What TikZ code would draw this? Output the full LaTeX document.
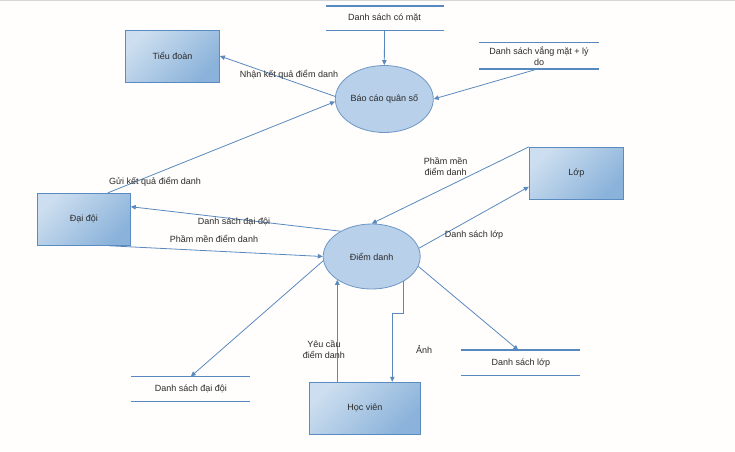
\documentclass[tikz,border=0pt]{standalone}
\usepackage{fontspec}
\setmainfont{Liberation Sans}
\usetikzlibrary{shapes.geometric,arrows.meta,calc}
\definecolor{bgcol}{HTML}{FFFEFC}
\definecolor{topgray}{HTML}{D6D6D6}
\definecolor{boxlight}{HTML}{CCDEEF}
\definecolor{boxdark}{HTML}{8AB2DA}
\definecolor{boxborder}{HTML}{5A8CC2}
\definecolor{ellfill}{HTML}{B8D0E9}
\definecolor{ellborder}{HTML}{6E97C6}
\definecolor{arrcol}{HTML}{5A89BE}
\definecolor{storecol}{HTML}{5888C0}
\definecolor{txt}{HTML}{2A2A2A}
\begin{document}
\begin{tikzpicture}[x=1pt,y=-1pt,
  every node/.style={font=\fontsize{9}{11}\selectfont, text=txt},
  entity/.style={rectangle, draw=boxborder, line width=0.9pt,
    top color=boxlight, bottom color=boxdark, shading angle=45,
    minimum height=52pt, inner sep=0pt},
  proc/.style={ellipse, draw=ellborder, line width=0.8pt, fill=ellfill, inner sep=0pt},
  store/.style={rectangle, inner sep=0pt, align=center},
  storeline/.style={draw=storecol, line width=1.8pt},
  arr/.style={draw=arrcol, line width=0.8pt, -{Triangle[length=5pt,width=4.5pt]}},
  lbl/.style={inner sep=0pt, align=center}
]
\useasboundingbox (0,0) rectangle (735,451);
\fill[bgcol] (0,0) rectangle (735,451);
\fill[topgray] (0,0) rectangle (735,1.3);

% entities
\node[entity, minimum width=94pt] (td) at (172.5,56) {Tiểu đoàn};
\node[entity, minimum width=93pt] (dai) at (83.8,219.3) {Đại đội};
\node[entity, minimum width=94pt] (lop) at (576.3,173.3) {Lớp};
\node[entity, minimum width=111pt] (hv) at (364.8,408.2) {Học viên};

% processes
\node[proc, minimum width=98pt, minimum height=67pt] (bc) at (384.3,99) {Báo cáo quân số};
\node[proc, minimum width=97pt, minimum height=65pt] (dd) at (371.7,256.5) {Điểm danh};

% stores
\node[store, minimum width=117.6pt, minimum height=24.3pt] (s1) at (384.5,18.2) {Danh sách có mặt};
\node[store, minimum width=120pt, minimum height=26.3pt] (s2) at (539,55.8) {Danh sách vắng mặt + lý\\do};
\node[store, minimum width=118.3pt, minimum height=24.6pt] (s3) at (190.8,389) {Danh sách đại đội};
\node[store, minimum width=118.3pt, minimum height=25pt] (s4) at (520.8,362.8) {Danh sách lớp};
\foreach \s in {s1,s2,s3,s4}{
  \draw[storeline] (\s.north west) -- (\s.north east);
  \draw[storeline] (\s.south west) -- (\s.south east);
}

% flows
\draw[arr] (s1.south) -- (bc.north);
\draw[arr] ([xshift=-2pt]s2.south) -- (bc.east);
\draw[arr] (bc.177) -- (td.east);
\draw[arr] ([xshift=24pt]dai.north) -- (bc.183);
\draw[arr] (dd.141) -- ([yshift=12.6pt]dai.east);
\draw[arr] ([xshift=25pt]dai.south) -- (dd.west);
\draw[arr] (lop.north west) -- (dd.north);
\draw[arr] (dd.10) -- ([yshift=-13.4pt]lop.west);
\draw[arr] (dd.185) -- (s3.north);
\draw[arr] (dd.-12) -- ([xshift=-2.5pt]s4.north);
\draw[arr] ([xshift=-27.5pt]hv.north) -- ([xshift=-27.5pt]hv.north |- dd.-146.5);
\draw[arr] (dd.-38) -- ++(0pt,-32pt) -| ([xshift=27.5pt]hv.north);

% labels
\node[lbl] (l1) at (289,75) {Nhận kết quả điểm danh};
\node[lbl] (l2) at (155,181.7) {Gửi kết quả điểm danh};
\node[lbl] (l3) at (234,222) {Danh sách đại đội};
\node[lbl] (l4) at (214,238.7) {Phầm mền điểm danh};
\node[lbl] (l5) at (445.7,166.2) {Phầm mền\\điểm danh};
\node[lbl] (l6) at (474,235) {Danh sách lớp};
\node[lbl] (l7) at (324,349.5) {Yêu cầu\\điểm danh};
\node[lbl] (l8) at (424,349.3) {Ảnh};
\end{tikzpicture}
\end{document}
